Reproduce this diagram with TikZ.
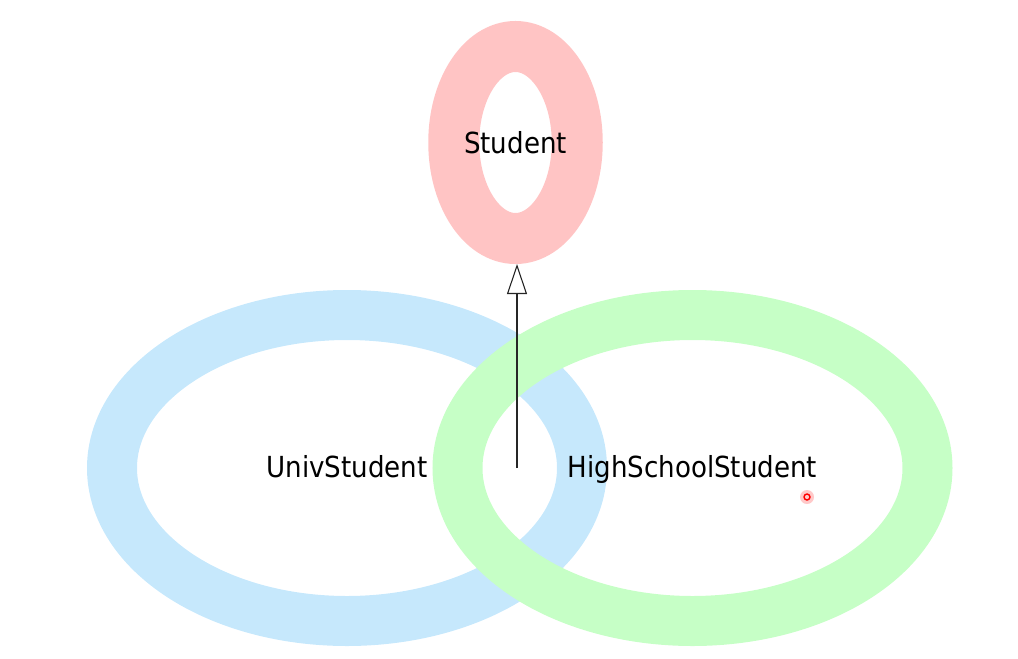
\documentclass[tikz,border=0pt]{standalone}
\usepackage{fontspec}
\setmainfont{DejaVu Sans Condensed}
\usepackage{xcolor}
\usepackage{tikz}
\usetikzlibrary{shapes.geometric, arrows.meta, positioning}

\definecolor{ringred}{RGB}{255,196,196}
\definecolor{ringblue}{RGB}{198,232,252}
\definecolor{ringgreen}{RGB}{198,255,198}

\begin{document}
\begin{tikzpicture}[
    x=1pt, y=-1pt,
    ring/.style={ellipse, draw=#1, line width=51pt, inner sep=0pt},
    classname/.style={font=\fontsize{29}{32}\selectfont, inner sep=0pt, anchor=base},
    arrow/.style={-{Triangle[open, length=30pt, width=20pt, fill=white]}, line width=1.1pt, black!85}
]
\useasboundingbox (0,0) rectangle (1018,659);

\node[ring=ringred, minimum width=123.5pt, minimum height=192pt] (studentring) at (515.5,142.5) {};
\node[ring=ringblue, line width=50pt, minimum width=470pt, minimum height=306pt] (univring) at (347,468) {};
\node[ring=ringgreen, line width=50pt, minimum width=470pt, minimum height=306pt] (highring) at (692.5,468) {};

\node[classname] (student) at (515.5,153.5) {Student};
\node[classname] (univ) at (347,477.5) {UnivStudent};
\node[classname] (high) at (692.5,477.5) {HighSchoolStudent};

\coordinate (meet) at (517,468);
\draw[arrow] (meet) -- (meet |- studentring.south);

% pointer mark
\fill[red!30, opacity=0.7] (807,497) circle (7pt);
\draw[red, line width=1.4pt] (807,497) circle (3pt);

\end{tikzpicture}
\end{document}
